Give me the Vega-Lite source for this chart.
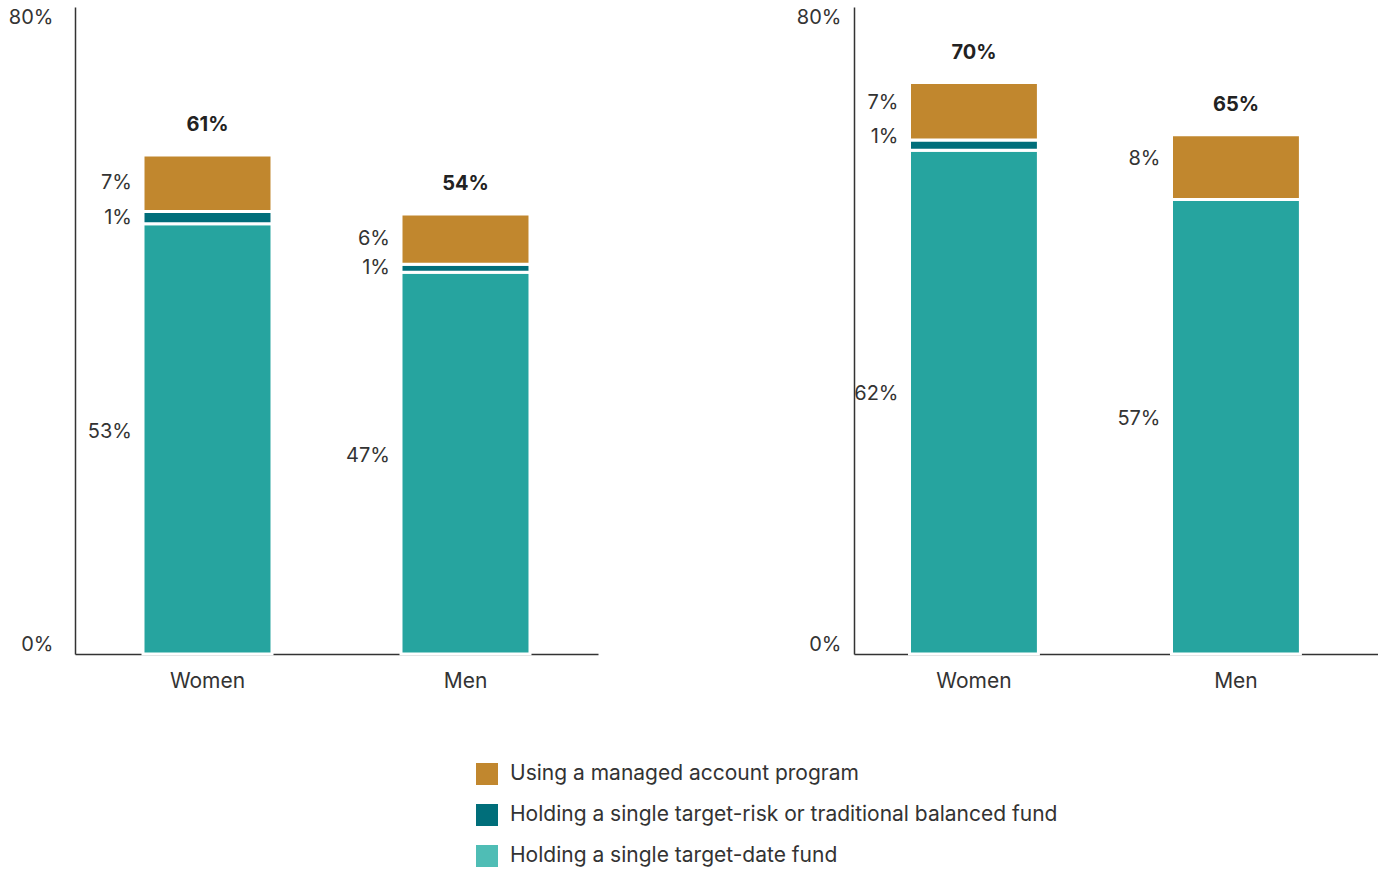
{
  "$schema": "https://vega.github.io/schema/vega-lite/v6.json",
  "padding": {"left": 8, "top": 7, "right": 0, "bottom": 0},
  "background": "white",
  "config": {
    "view": {"stroke": null},
    "font": "Inter",
    "text": {"color": "#333333"},
    "axis": {"labelColor": "#333333", "labelFont": "Inter", "domainColor": "#333333", "domainWidth": 1.5, "grid": false, "ticks": false, "title": null, "zindex": 1}
  },
  "datasets": {
    "seg": [
      {"panel": "A", "group": "Women", "series": "Holding a single target-date fund", "rank": 1, "value": 53.2, "label": "53%", "total": "61%"},
      {"panel": "A", "group": "Women", "series": "Holding a single target-risk or traditional balanced fund", "rank": 2, "value": 1.5, "label": "1%", "total": "61%"},
      {"panel": "A", "group": "Women", "series": "Using a managed account program", "rank": 3, "value": 7.0, "label": "7%", "total": "61%"},
      {"panel": "A", "group": "Men", "series": "Holding a single target-date fund", "rank": 1, "value": 47.2, "label": "47%", "total": "54%"},
      {"panel": "A", "group": "Men", "series": "Holding a single target-risk or traditional balanced fund", "rank": 2, "value": 1.0, "label": "1%", "total": "54%"},
      {"panel": "A", "group": "Men", "series": "Using a managed account program", "rank": 3, "value": 6.2, "label": "6%", "total": "54%"},
      {"panel": "B", "group": "Women", "series": "Holding a single target-date fund", "rank": 1, "value": 62.3, "label": "62%", "total": "70%"},
      {"panel": "B", "group": "Women", "series": "Holding a single target-risk or traditional balanced fund", "rank": 2, "value": 1.25, "label": "1%", "total": "70%"},
      {"panel": "B", "group": "Women", "series": "Using a managed account program", "rank": 3, "value": 7.1, "label": "7%", "total": "70%"},
      {"panel": "B", "group": "Men", "series": "Holding a single target-date fund", "rank": 1, "value": 56.2, "label": "57%", "total": "65%"},
      {"panel": "B", "group": "Men", "series": "Using a managed account program", "rank": 3, "value": 8.0, "label": "8%", "total": "65%"}
    ]
  },
  "spacing": 256,
  "bounds": "flush",
  "hconcat": [
    {
      "width": 523,
      "height": 647,
      "data": {"name": "seg"},
      "transform": [
        {"filter": "datum.panel == 'A'"},
        {"stack": "value", "groupby": ["group"], "sort": [{"field": "rank", "order": "ascending"}], "as": ["v0", "v1"]},
        {"calculate": "(datum.v0 + datum.v1) / 2", "as": "mid"}
      ],
      "encoding": {
        "x": {"field": "group", "type": "nominal", "sort": ["Women", "Men"], "scale": {"paddingInner": 0.5, "paddingOuter": 0.2636}, "axis": {"labelAngle": 0, "labelPadding": 16, "labelFontSize": 21}}
      },
      "layer": [
        {
          "mark": {"type": "bar", "stroke": "white", "strokeWidth": 3},
          "encoding": {
            "y": {"field": "v0", "type": "quantitative", "scale": {"domain": [0, 80], "nice": false}, "axis": {"values": [0, 80], "labelExpr": "datum.value + '%'", "labelFlush": true, "labelPadding": 22, "labelFontSize": 20}},
            "y2": {"field": "v1"},
            "fill": {"field": "series", "type": "nominal", "scale": {"domain": ["Holding a single target-date fund", "Holding a single target-risk or traditional balanced fund", "Using a managed account program"], "range": ["#26a49f", "#006e7a", "#c1872e"]}, "legend": null}
          }
        },
        {
          "transform": [{"filter": "datum.rank == 1"}],
          "mark": {"type": "text", "align": "right", "baseline": "middle", "dx": -11, "dy": -7, "fontSize": 20, "color": "#333333"},
          "encoding": {
            "x": {"field": "group", "type": "nominal", "sort": ["Women", "Men"], "bandPosition": 0},
            "y": {"field": "mid", "type": "quantitative"},
            "text": {"field": "label"}
          }
        },
        {
          "transform": [{"filter": "datum.rank > 1"}],
          "mark": {"type": "text", "align": "right", "baseline": "middle", "dx": -11, "dy": 0, "fontSize": 20, "color": "#333333"},
          "encoding": {
            "x": {"field": "group", "type": "nominal", "sort": ["Women", "Men"], "bandPosition": 0},
            "y": {"field": "mid", "type": "quantitative"},
            "text": {"field": "label"}
          }
        },
        {
          "transform": [{"filter": "datum.rank == 3"}],
          "mark": {"type": "text", "align": "center", "baseline": "middle", "dy": -30, "fontSize": 20, "fontWeight": "bold", "color": "#222222"},
          "encoding": {
            "y": {"field": "v1", "type": "quantitative"},
            "text": {"field": "total"}
          }
        },
        {
          "mark": {"type": "bar", "strokeWidth": 0},
          "encoding": {
            "y": {"field": "v0", "type": "quantitative"},
            "y2": {"field": "v0"},
            "color": {"field": "series", "type": "nominal", "scale": {"domain": ["Using a managed account program", "Holding a single target-risk or traditional balanced fund", "Holding a single target-date fund"], "range": ["#c1872e", "#006e7a", "#4fbdb5"]},
              "legend": {"orient": "none", "legendX": 401, "legendY": 756, "direction": "vertical", "title": null, "symbolType": "square", "symbolSize": 484, "symbolStrokeWidth": 0, "labelFontSize": 21, "labelColor": "#333333", "labelOffset": 12, "rowPadding": 19, "padding": 0, "labelLimit": 800}}
          }
        }
      ]
    },
    {
      "width": 524,
      "height": 647,
      "data": {"name": "seg"},
      "transform": [
        {"filter": "datum.panel == 'B'"},
        {"stack": "value", "groupby": ["group"], "sort": [{"field": "rank", "order": "ascending"}], "as": ["v0", "v1"]},
        {"calculate": "(datum.v0 + datum.v1) / 2", "as": "mid"}
      ],
      "encoding": {
        "x": {"field": "group", "type": "nominal", "sort": ["Women", "Men"], "scale": {"paddingInner": 0.508, "paddingOuter": 0.254, "align": 0.417}, "axis": {"labelAngle": 0, "labelPadding": 16, "labelFontSize": 21}}
      },
      "layer": [
        {
          "mark": {"type": "bar", "stroke": "white", "strokeWidth": 3},
          "encoding": {
            "y": {"field": "v0", "type": "quantitative", "scale": {"domain": [0, 80], "nice": false}, "axis": {"values": [0, 80], "labelExpr": "datum.value + '%'", "labelFlush": true, "labelPadding": 13, "labelFontSize": 20}},
            "y2": {"field": "v1"},
            "fill": {"field": "series", "type": "nominal", "scale": {"domain": ["Holding a single target-date fund", "Holding a single target-risk or traditional balanced fund", "Using a managed account program"], "range": ["#26a49f", "#006e7a", "#c1872e"]}, "legend": null}
          }
        },
        {
          "mark": {"type": "text", "align": "right", "baseline": "middle", "dx": -11, "dy": -8, "fontSize": 20, "color": "#333333"},
          "encoding": {
            "x": {"field": "group", "type": "nominal", "sort": ["Women", "Men"], "bandPosition": 0},
            "y": {"field": "mid", "type": "quantitative"},
            "text": {"field": "label"}
          }
        },
        {
          "transform": [{"filter": "datum.rank == 3"}],
          "mark": {"type": "text", "align": "center", "baseline": "middle", "dy": -30, "fontSize": 20, "fontWeight": "bold", "color": "#222222"},
          "encoding": {
            "y": {"field": "v1", "type": "quantitative"},
            "text": {"field": "total"}
          }
        }
      ]
    }
  ]
}
